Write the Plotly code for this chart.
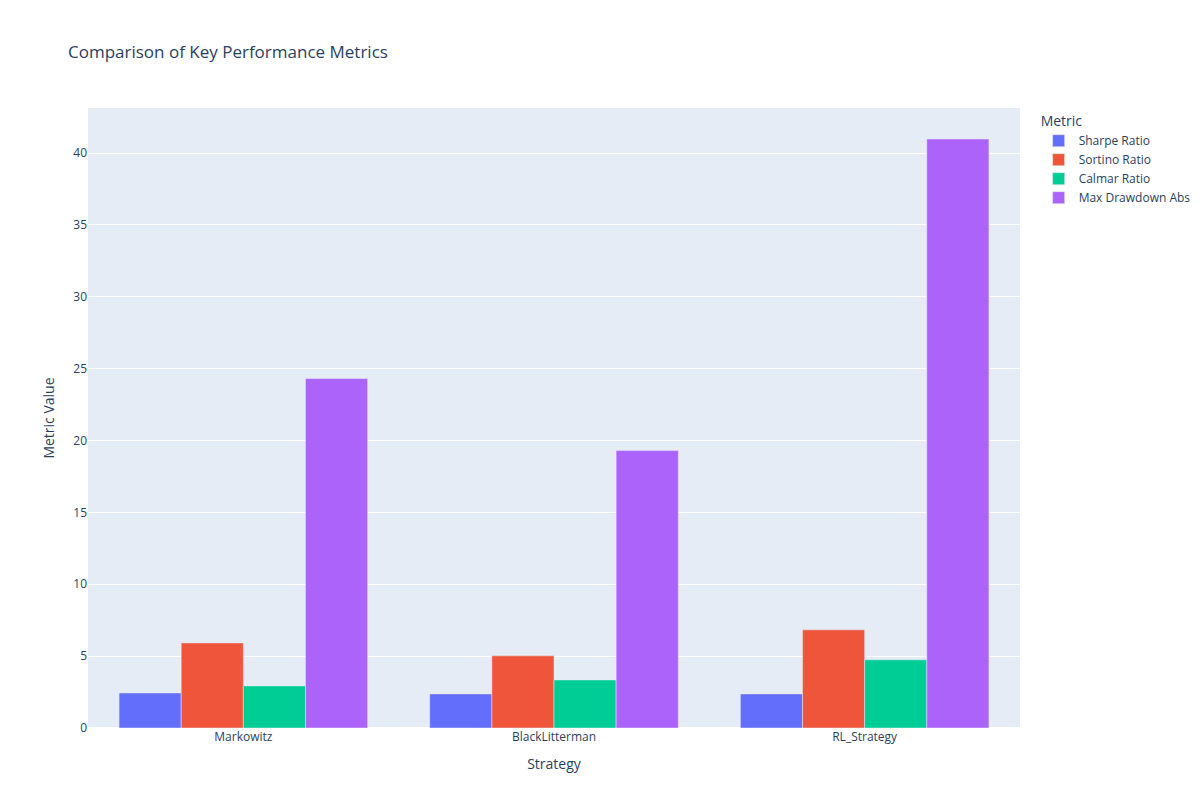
import plotly.graph_objects as go

strategies = ["Markowitz", "BlackLitterman", "RL_Strategy"]
metrics = ["Sharpe Ratio", "Sortino Ratio", "Calmar Ratio", "Max Drawdown Abs"]
sharpe = [2.44, 2.37, 2.37]
sortino = [5.92, 5.02, 6.83]
calmar = [2.93, 3.34, 4.74]
max_dd = [24.32, 19.3, 40.98]
colors = ["#636efa", "#EF553B", "#00cc96", "#ab63fa"]

fig = go.Figure()
for name, vals, c in zip(metrics, [sharpe, sortino, calmar, max_dd], colors):
    fig.add_trace(go.Bar(x=strategies, y=vals, name=name, marker_color=c))

fig.update_layout(
    template="plotly",
    barmode="group",
    title="Comparison of Key Performance Metrics",
    xaxis_title="Strategy",
    yaxis_title="Metric Value",
    legend_title_text="Metric",
    width=1200, height=800,
)
fig.write_html("out.html")
